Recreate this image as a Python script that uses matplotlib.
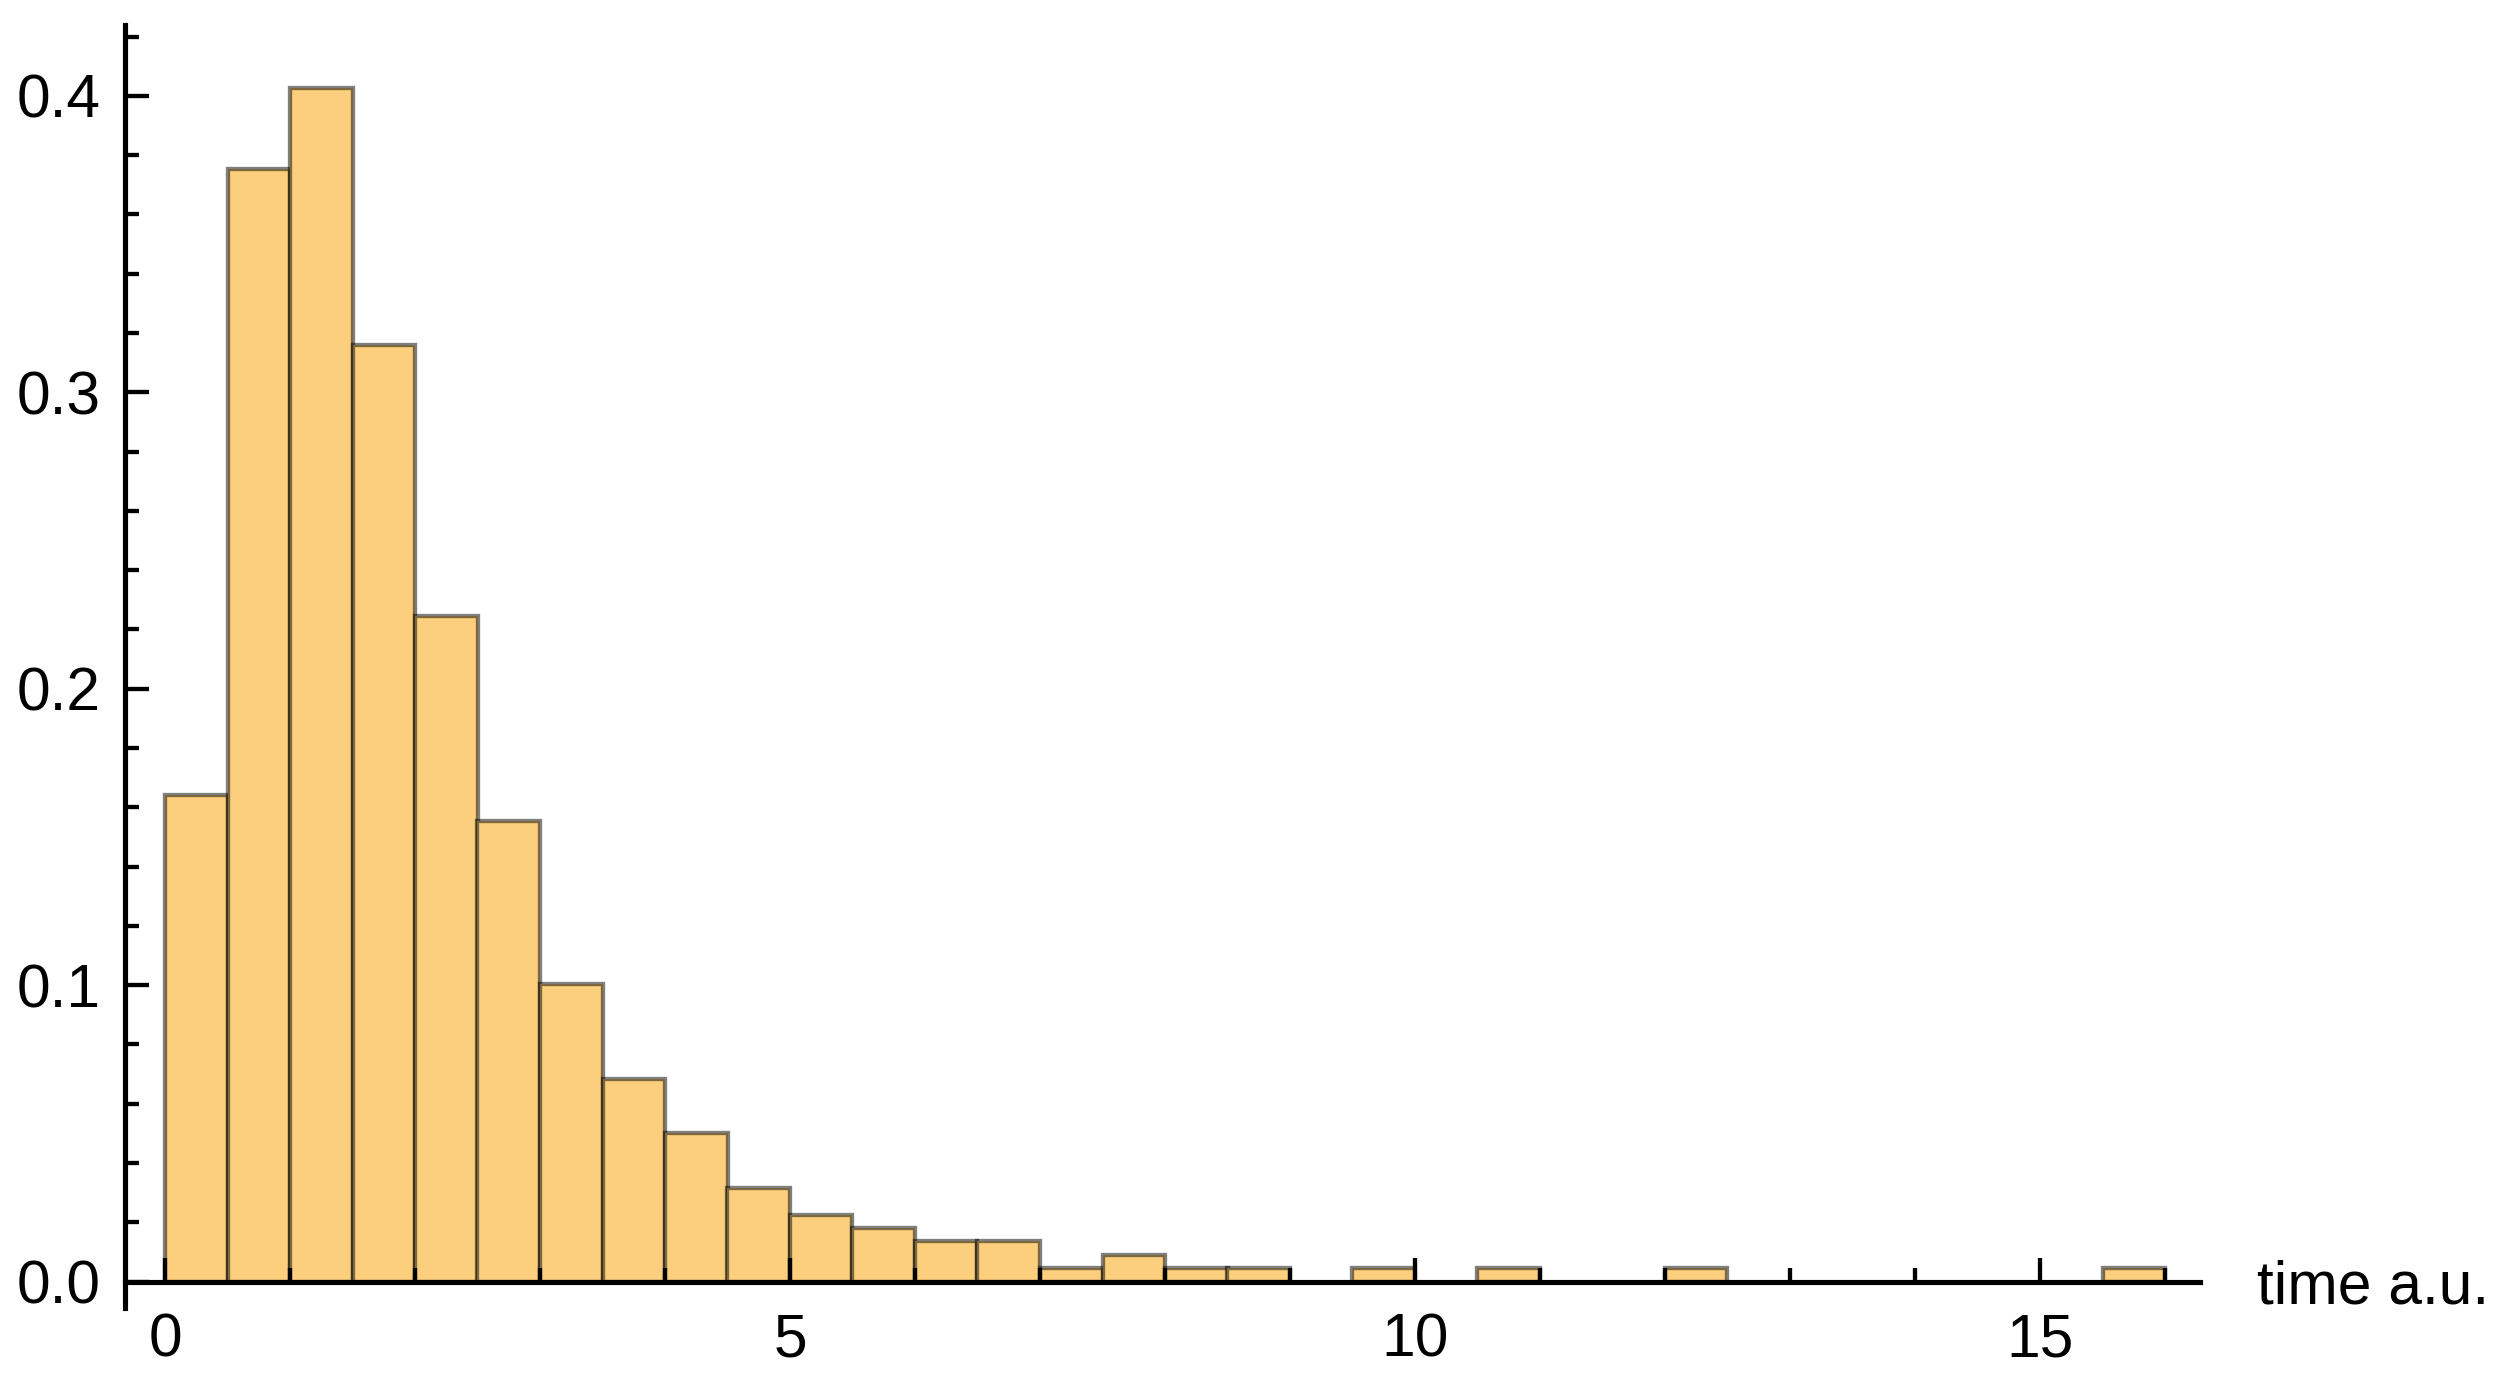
import matplotlib
matplotlib.use("Agg")
import matplotlib.pyplot as plt
from matplotlib.ticker import MultipleLocator, FormatStrFormatter

# ---- data (probability density per bin, bin width 0.5) ----
bin_left = [0.0, 0.5, 1.0, 1.5, 2.0, 2.5, 3.0, 3.5, 4.0, 4.5,
            5.0, 5.5, 6.0, 6.5, 7.0, 7.5, 8.0, 8.5, 9.0, 9.5,
            10.0, 10.5, 11.0, 11.5, 12.0, 12.5, 13.0, 13.5, 14.0, 14.5,
            15.0, 15.5]
density = [0.1643, 0.3752, 0.4025, 0.3158, 0.2244, 0.1553, 0.1004, 0.0684, 0.0500, 0.0316,
           0.0226, 0.0181, 0.0137, 0.0137, 0.0045, 0.0091, 0.0045, 0.0045, 0.0, 0.0045,
           0.0, 0.0045, 0.0, 0.0, 0.0045, 0.0, 0.0, 0.0, 0.0, 0.0,
           0.0, 0.0045]
bin_width = 0.5
x_major_ticks = [0, 5, 10, 15]
x_label = "time a.u."

plt.rcParams['font.family'] = ['Liberation Sans', 'DejaVu Sans']

W, H, DPI = 2506, 1379, 200
fig = plt.figure(figsize=(W / DPI, H / DPI), dpi=DPI)
ax = fig.add_axes([125 / W, (H - 1308) / H, 2075 / W, (1308 - 25) / H])

xs = [l for l, d in zip(bin_left, density) if d > 0]
hs = [d for d in density if d > 0]
ax.bar(xs, hs, width=bin_width, align='edge',
       color='#FCCF7F', edgecolor=(0, 0, 0, 0.5), linewidth=1.55, zorder=1)

ax.set_xlim(-0.32, 16.28)
ax.set_ylim(-0.0089, 0.4239)

for s in ['top', 'right']:
    ax.spines[s].set_visible(False)
ax.spines['bottom'].set_position(('data', 0))
for s in ['left', 'bottom']:
    ax.spines[s].set_linewidth(1.85)
    ax.spines[s].set_color('black')

ax.set_xticks(x_major_ticks)
ax.xaxis.set_minor_locator(MultipleLocator(1))
ax.yaxis.set_major_locator(MultipleLocator(0.1))
ax.yaxis.set_minor_locator(MultipleLocator(0.02))
ax.yaxis.set_major_formatter(FormatStrFormatter('%.1f'))

ax.tick_params(axis='both', which='both', direction='in', width=1.55, color='black')
ax.tick_params(axis='both', which='major', length=8.6, labelsize=21.8)
ax.tick_params(axis='both', which='minor', length=4.9)
ax.tick_params(axis='x', which='major', pad=11)
ax.tick_params(axis='y', which='major', pad=8.6)

fig.text(2257 / W, 1 - 1303 / H, x_label, fontsize=21.8, ha='left', va='baseline')

fig.savefig("out.png", dpi=DPI)
